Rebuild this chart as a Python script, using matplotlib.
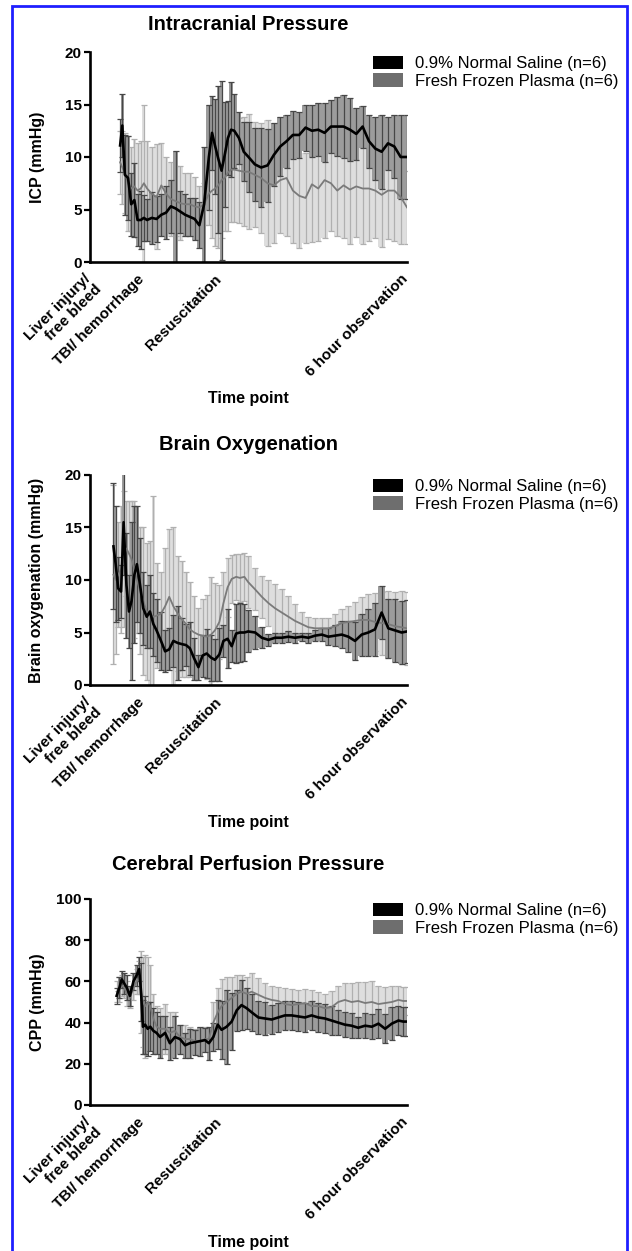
import matplotlib
matplotlib.use("Agg")
import matplotlib.pyplot as plt
import numpy as np
from matplotlib.patches import Patch, Rectangle
from matplotlib.transforms import ScaledTranslation

plt.rcParams["font.family"] = ["Liberation Sans", "DejaVu Sans"]

# x axis: experiment timeline (0 = liver injury, 100 = end of 6 h observation)
STAGES = ["Liver injury/\nfree bleed", "TBI/ hemorrhage", "Resuscitation", "6 hour observation"]
STAGE_POS = [0, 16.7, 41, 100]
GROUPS = ["0.9% Normal Saline (n=6)", "Fresh Frozen Plasma (n=6)"]

# Intracranial pressure (mmHg), mean and SD
icp_time = [9.5, 10.2, 11, 12, 13, 14, 15, 16, 17, 18,
            19.5, 21, 22.5, 24, 25.5, 27, 28.5, 30, 31.5, 33,
            34.5, 36, 37.5, 38.5, 39.5, 40.5, 41.5, 42.5, 43.5, 44.5,
            45.5, 47, 48.5, 50, 52, 54, 56, 58, 60, 62,
            64, 66, 68, 70, 72, 74, 76, 78, 80, 82,
            84, 86, 88, 90, 92, 94, 96, 98, 100]
icp_ns_mean = [11.1, 13.0, 8.3, 8.0, 5.5, 5.9, 4.0, 4.0, 4.2, 4.0,
               4.2, 4.1, 4.5, 4.7, 5.3, 5.1, 4.8, 4.5, 4.3, 4.1,
               3.5, 5.5, 10.0, 12.3, 11.0, 9.8, 8.7, 10.2, 11.8, 12.6,
               12.5, 11.8, 10.5, 10.0, 9.3, 9.0, 9.2, 10.2, 11.0, 11.5,
               12.1, 12.1, 12.8, 12.5, 12.6, 12.3, 12.9, 12.9, 12.9, 12.6,
               12.2, 12.9, 11.5, 10.8, 10.5, 11.3, 11.0, 10.0, 10.0]
icp_ns_sd = [2.5, 3.0, 3.8, 4.0, 3.0, 3.5, 2.5, 2.8, 2.2, 2.0,
             2.5, 2.2, 2.0, 2.5, 2.5, 5.5, 2.0, 2.0, 1.8, 2.0,
             2.2, 5.5, 5.0, 3.5, 4.5, 7.0, 8.5, 5.0, 3.5, 4.5,
             3.5, 2.5, 2.8, 3.3, 3.5, 3.8, 3.5, 3.0, 2.8, 2.5,
             2.3, 2.2, 2.2, 2.5, 2.5, 2.8, 2.5, 2.8, 3.0, 3.0,
             2.5, 2.0, 2.5, 3.0, 3.5, 2.5, 3.0, 4.0, 4.0]
icp_ffp_mean = [9.5, 9.0, 8.5, 7.5, 7.0, 7.2, 6.8, 7.0, 7.5, 7.0,
                6.5, 6.2, 7.3, 6.5, 6.0, 5.8, 5.6, 5.5, 5.5, 5.3,
                5.2, 5.5, 6.5, 6.8, 7.0, 7.3, 7.8, 8.0, 8.5, 8.8,
                8.8, 8.7, 8.6, 8.6, 8.3, 8.0, 7.5, 7.3, 7.8, 8.0,
                6.8, 6.3, 6.1, 7.4, 7.0, 7.8, 7.5, 6.8, 7.3, 6.9,
                7.2, 7.0, 7.0, 6.8, 6.4, 6.8, 6.8, 6.2, 5.2]
icp_ffp_sd = [3.0, 3.5, 3.8, 4.5, 4.0, 4.5, 4.5, 4.5, 7.5, 4.5,
              4.5, 5.0, 4.0, 3.5, 3.5, 3.3, 3.5, 3.0, 3.0, 2.8,
              2.0, 2.0, 3.0, 4.5, 5.5, 6.0, 5.5, 5.0, 5.5, 5.0,
              5.0, 5.0, 5.2, 5.5, 5.0, 5.2, 6.0, 5.5, 5.0, 5.5,
              5.0, 5.0, 4.3, 5.5, 5.0, 5.5, 4.5, 4.3, 5.0, 5.2,
              4.8, 5.3, 5.0, 4.5, 5.0, 4.6, 4.8, 4.5, 3.5]

# Brain tissue oxygenation (mmHg), mean and SD
pbo2_time = [7.4, 8.1, 8.9, 9.8, 10.6, 11.5, 12.3, 13.1, 14.0, 14.8,
             15.8, 16.8, 17.9, 18.9, 20.0, 21.0, 22.4, 23.7, 25.0, 26.3,
             27.7, 28.9, 30.3, 31.5, 32.9, 34.2, 35.5, 36.8, 38.2, 39.4,
             40.8, 42.1, 43.4, 44.7, 46.1, 47.3, 48.7, 49.9, 52.1, 54.2,
             56.3, 58.4, 60.5, 62.6, 64.7, 66.8, 68.9, 71.0, 73.1, 75.2,
             77.3, 79.4, 81.5, 83.6, 85.7, 87.8, 89.9, 92.0, 94.1, 96.2,
             98.3, 100]
pbo2_ns_mean = [13.2, 11.5, 9.2, 8.9, 15.5, 9.5, 7.0, 8.0, 10.5, 11.5,
                9.5, 7.3, 6.5, 7.0, 5.8, 5.2, 4.2, 3.2, 3.4, 4.2,
                4.0, 3.9, 3.8, 3.5, 2.5, 1.7, 2.8, 3.0, 2.6, 2.4,
                2.9, 4.2, 4.4, 3.7, 4.9, 5.0, 5.0, 5.1, 5.0, 4.5,
                4.3, 4.5, 4.5, 4.6, 4.5, 4.6, 4.5, 4.7, 4.8, 4.6,
                4.7, 4.8, 4.6, 4.2, 4.8, 5.0, 5.3, 6.9, 5.4, 5.2,
                5.0, 5.1]
pbo2_ns_sd = [6.0, 5.5, 3.0, 2.5, 5.0, 5.0, 3.5, 7.5, 6.5, 5.5,
              4.5, 3.5, 3.0, 3.5, 3.0, 3.0, 2.8, 2.0, 2.0, 2.5,
              3.5, 2.5, 2.0, 2.5, 2.0, 1.2, 2.0, 2.3, 2.2, 2.0,
              2.5, 1.5, 2.8, 1.5, 2.8, 2.8, 2.7, 2.0, 1.6, 1.0,
              0.6, 0.5, 0.5, 0.5, 0.5, 0.4, 0.5, 0.5, 0.6, 0.8,
              1.0, 1.3, 1.5, 1.8, 2.0, 2.2, 2.5, 2.5, 2.8, 3.0,
              3.0, 3.0]
pbo2_ffp_mean = [10.5, 10.0, 10.5, 11.0, 12.0, 13.0, 12.5, 12.0, 11.0, 10.0,
                 9.0, 8.0, 7.0, 6.7, 6.5, 6.6, 6.8, 7.5, 8.4, 7.5,
                 6.8, 6.3, 5.8, 5.3, 5.0, 4.8, 4.7, 4.6, 4.8, 5.2,
                 6.0, 7.8, 9.3, 10.1, 10.3, 10.2, 10.3, 9.8, 9.1, 8.4,
                 7.8, 7.3, 6.9, 6.5, 6.1, 5.8, 5.5, 5.4, 5.4, 5.4,
                 5.6, 5.9, 6.0, 6.1, 6.2, 6.2, 6.0, 5.9, 5.8, 5.6,
                 5.5, 5.4]
pbo2_ffp_sd = [8.5, 7.0, 5.0, 6.0, 6.5, 4.5, 5.0, 5.5, 6.5, 5.0,
               6.0, 7.0, 6.5, 7.0, 11.5, 5.0, 4.0, 5.5, 6.5, 7.5,
               5.5, 5.5, 5.0, 4.5, 3.5, 2.5, 3.5, 4.0, 5.5, 4.5,
               3.5, 3.0, 2.8, 2.3, 2.2, 2.3, 2.3, 2.5, 2.0, 2.0,
               2.2, 2.3, 2.2, 2.0, 1.6, 1.2, 1.0, 1.0, 1.0, 1.0,
               1.2, 1.3, 1.5, 1.8, 2.2, 2.5, 2.8, 3.0, 3.2, 3.3,
               3.5, 3.5]

# Cerebral perfusion pressure (mmHg), mean and SD
cpp_time = [8.4, 9.3, 10.0, 10.8, 11.6, 12.6, 13.7, 14.7, 15.5, 16.1,
            16.7, 17.4, 18.2, 19.0, 20.0, 21.0, 22.1, 23.7, 25.2, 26.8,
            28.4, 30.0, 31.5, 33.1, 34.7, 36.3, 37.5, 38.9, 40.3, 41.5,
            43.1, 44.7, 46.3, 47.8, 49.4, 51.0, 53.1, 55.2, 57.3, 59.4,
            61.5, 63.6, 65.7, 67.8, 69.9, 72.0, 74.1, 76.2, 78.3, 80.4,
            82.5, 84.6, 86.8, 88.9, 91.0, 93.1, 95.2, 97.3, 98.8, 100]
cpp_ns_mean = [53, 57, 61, 59, 57, 53, 60, 63, 66, 55,
               38, 39, 37, 38, 36, 35, 33, 35, 30, 33,
               32, 29, 30, 30.5, 31, 31.5, 30, 33, 39, 36.5,
               38, 40.5, 46, 48.5, 47, 45, 42.5, 42, 41.5, 42.5,
               43.5, 43.5, 43, 42.5, 43.5, 42.5, 42, 41, 40, 39,
               38.5, 37.5, 38.5, 38, 39.5, 37, 39.5, 41, 40.5, 40.5]
cpp_ns_sd = [4, 5, 4, 5, 6, 5, 4, 5, 6, 14,
             13, 14, 13, 12, 11, 10, 10, 8, 8, 10,
             7, 6, 7, 6, 7, 6, 8, 7, 12, 14,
             18, 14, 10, 12, 10, 9, 8, 8, 7, 7,
             7, 7, 7, 7, 7, 7, 7, 7, 6, 6,
             6, 5, 6, 6, 7, 7, 8, 7, 7, 7]
cpp_ffp_mean = [55, 56, 58, 57, 54, 52, 57, 60, 62, 55,
                50, 48, 50, 48, 42, 38, 37, 37, 35, 36,
                33, 32, 32, 31, 31, 32, 32, 40, 45, 48,
                50, 52, 54, 55, 54, 55, 53.5, 52, 51, 50.5,
                49, 48.5, 49, 49.5, 48, 48, 47, 47.5, 50, 51,
                50, 50.5, 49.5, 50, 49, 49.5, 50, 51, 50.5, 50.5]
cpp_ffp_sd = [5, 6, 5, 5, 6, 5, 6, 6, 8, 20,
              22, 25, 22, 20, 12, 10, 10, 12, 10, 9,
              6, 7, 6, 6, 5, 6, 5, 10, 12, 13,
              12, 10, 9, 8, 8, 9, 8, 7, 7, 7,
              8, 8, 7, 7, 8, 7, 7, 8, 8, 8,
              9, 9, 10, 10, 9, 8, 8, 7, 7, 7]

NS_LINE = "black"
NS_BAR = "#474747"
NS_FILL = "#9c9c9c"
FFP_LINE = "#7a7a7a"
FFP_BAR = "#b0b0b0"
FFP_FILL = "#dedede"
FFP_KEY = "#6e6e6e"

W, H = 632, 1251


def draw_panel(fig, top_px, bottom_px, title, title_gap, ylabel, t, ns_mean, ns_sd,
               ffp_mean, ffp_sd, ymax, ystep):
    left_px, right_px = 90, 407
    h_px = bottom_px - top_px
    ax = fig.add_axes([left_px / W, 1 - bottom_px / H, (right_px - left_px) / W, h_px / H])

    t = np.array(t)
    ns_mean = np.array(ns_mean)
    ns_sd = np.array(ns_sd)
    ffp_mean = np.array(ffp_mean)
    ffp_sd = np.array(ffp_sd)

    ax.fill_between(t, ffp_mean - ffp_sd, ffp_mean + ffp_sd, step="mid",
                    color=FFP_FILL, lw=0, zorder=1)
    ax.errorbar(t, ffp_mean, yerr=ffp_sd, fmt="none", ecolor=FFP_BAR,
                elinewidth=0.9, capsize=2, capthick=0.9, zorder=2)
    ax.fill_between(t, ns_mean - ns_sd, ns_mean + ns_sd, step="mid",
                    color=NS_FILL, lw=0, zorder=3)
    ax.errorbar(t, ns_mean, yerr=ns_sd, fmt="none", ecolor=NS_BAR,
                elinewidth=0.9, capsize=2, capthick=0.9, zorder=4)
    ax.plot(t, ffp_mean, color=FFP_LINE, lw=1.3, zorder=5)
    ax.plot(t, ns_mean, color=NS_LINE, lw=1.9, zorder=6)

    ax.set_xlim(0, 100)
    ax.set_ylim(0, ymax)
    for side in ["top", "right"]:
        ax.spines[side].set_visible(False)
    for side in ["left", "bottom"]:
        ax.spines[side].set_linewidth(1.9)
        ax.spines[side].set_zorder(7)
    ax.spines["left"].set_bounds(0, ymax)

    yticks = np.arange(0, ymax + 1, ystep)
    ax.set_yticks(yticks)
    ax.set_yticklabels([str(int(v)) for v in yticks], fontsize=11, fontweight="bold")
    ax.tick_params(axis="y", length=4.5, width=1.6, pad=1.5)

    ax.set_xticks(STAGE_POS)
    ax.set_xticklabels(STAGES, rotation=45, ha="right", rotation_mode="anchor",
                       fontsize=11, fontweight="bold", linespacing=1.0)
    ax.tick_params(axis="x", length=0, pad=7)
    shift = ScaledTranslation(-6 / 100, 0, fig.dpi_scale_trans)
    for lbl in ax.get_xticklabels():
        lbl.set_transform(lbl.get_transform() + shift)

    ax.text(0.5, 1 + (title_gap - 2) / h_px, title, transform=ax.transAxes, ha="center",
            va="center", fontsize=14.5, fontweight="bold")
    ax.text(-53 / (right_px - left_px), 0.5, ylabel, transform=ax.transAxes,
            rotation=90, ha="center", va="center", fontsize=11.5, fontweight="bold")
    ax.text(0.5, -137 / h_px, "Time point", transform=ax.transAxes, ha="center",
            va="center", fontsize=11.5, fontweight="bold")

    handles = [Patch(facecolor=NS_LINE, edgecolor="none"),
               Patch(facecolor=FFP_KEY, edgecolor="none")]
    ax.legend(handles, GROUPS, loc="upper left",
              bbox_to_anchor=(283 / (right_px - left_px), 1 - 4 / h_px),
              frameon=False, fontsize=12, handlelength=1.8, handleheight=0.85,
              handletextpad=0.7, labelspacing=0.12, borderpad=0, borderaxespad=0)
    return ax


def main():
    fig = plt.figure(figsize=(W / 100, H / 100), dpi=100)

    draw_panel(fig, 52, 262, "Intracranial Pressure", 30, "ICP (mmHg)",
               icp_time, icp_ns_mean, icp_ns_sd, icp_ffp_mean, icp_ffp_sd, 20, 5)
    draw_panel(fig, 475, 685, "Brain Oxygenation", 32, "Brain oxygenation (mmHg)",
               pbo2_time, pbo2_ns_mean, pbo2_ns_sd, pbo2_ffp_mean, pbo2_ffp_sd, 20, 5)
    draw_panel(fig, 899, 1105, "Cerebral Perfusion Pressure", 36, "CPP (mmHg)",
               cpp_time, cpp_ns_mean, cpp_ns_sd, cpp_ffp_mean, cpp_ffp_sd, 100, 20)

    border = Rectangle((12 / W, -0.01), (627 - 12) / W, 1.01 - 6 / H,
                       transform=fig.transFigure, fill=False, edgecolor="#1f1fff", lw=2)
    fig.patches.append(border)

    fig.savefig("out.png", dpi=100)
    plt.close(fig)


if __name__ == "__main__":
    main()
